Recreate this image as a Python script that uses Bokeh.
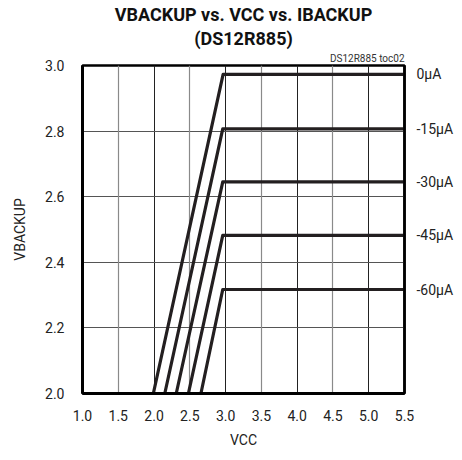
from bokeh.plotting import figure
from bokeh.models import Title, FixedTicker, Range1d, LinearAxis, CustomJSTickFormatter, Grid
from bokeh.embed import file_html
from bokeh.resources import INLINE

# Data
currents = ["0µA", "-15µA", "-30µA", "-45µA", "-60µA"]
vcc_start = [1.99, 2.15, 2.31, 2.48, 2.655]
vcc_knee = [2.965, 2.96, 2.96, 2.96, 2.96]
vcc_end = [5.5, 5.5, 5.5, 5.5, 5.5]
vbackup_plateau = [2.973, 2.807, 2.645, 2.482, 2.317]
vbackup_min = 2.0
x_ticks = [1.0, 1.5, 2.0, 2.5, 3.0, 3.5, 4.0, 4.5, 5.0, 5.5]
x_grid_dark = [2.0, 3.0, 4.0, 5.0]
x_grid_light = [1.5, 2.5, 3.5, 4.5]
y_ticks = [2.0, 2.2, 2.4, 2.6, 2.8, 3.0]

FONT = "Roboto"

p = figure(width=456, height=452, output_backend="svg", toolbar_location=None,
           x_range=Range1d(1.0, 5.5), y_range=Range1d(2.0, 3.0),
           min_border_left=82, min_border_right=46, min_border_top=13,
           min_border_bottom=59)

p.title.text = ""
p.title.visible = False
p.add_layout(Title(text="DS12R885 toc02", align="right", text_font=FONT,
                   text_font_size="10px", text_font_style="normal",
                   text_color="#333333", offset=0, standoff=4), "above")
p.add_layout(Title(text="(DS12R885)", align="center", text_font=FONT,
                   text_font_size="18px", text_font_style="bold",
                   text_color="#111111", standoff=0), "above")
p.add_layout(Title(text="VBACKUP vs. VCC vs. IBACKUP", align="center",
                   text_font=FONT, text_font_size="18px",
                   text_font_style="bold", text_color="#111111",
                   standoff=2), "above")

bottom = p.below[0]
left = p.left[0]
bottom.ticker = FixedTicker(ticks=x_ticks)
left.ticker = FixedTicker(ticks=y_ticks)
for ax in (bottom, left):
    ax.major_tick_line_color = None
    ax.minor_tick_line_color = None
    ax.axis_line_color = "black"
    ax.axis_line_width = 3
    ax.major_label_text_font = FONT
    ax.major_label_text_font_size = "14px"
    ax.major_label_text_color = "#222222"
    ax.axis_label_text_font = FONT
    ax.axis_label_text_font_size = "14px"
    ax.axis_label_text_font_style = "normal"
    ax.axis_label_text_color = "#222222"
    ax.formatter = CustomJSTickFormatter(code="return tick.toFixed(1);")
bottom.major_label_standoff = 10
left.major_label_standoff = 12
bottom.axis_label = "VCC"
left.axis_label = "VBACKUP"
bottom.axis_label_standoff = 8
left.axis_label_standoff = 14

# grids: darker at whole volts, lighter at half volts
p.xgrid.ticker = FixedTicker(ticks=x_grid_dark)
p.xgrid.grid_line_color = "#222222"
p.xgrid.grid_line_width = 1
p.add_layout(Grid(dimension=0, ticker=FixedTicker(ticks=x_grid_light),
                  grid_line_color="#8a8a8a", grid_line_width=1.2))
p.ygrid.grid_line_color = "#555555"
p.ygrid.grid_line_width = 1

for i, name in enumerate(currents):
    xs = [vcc_start[i], vcc_knee[i], vcc_end[i]]
    ys = [vbackup_min, vbackup_plateau[i], vbackup_plateau[i]]
    p.line(xs, ys, line_color="#231f20", line_width=3.2, line_join="round")

# right axis carrying the current labels at each plateau
right = LinearAxis(ticker=FixedTicker(ticks=vbackup_plateau),
                   major_label_overrides={v: n for v, n in zip(vbackup_plateau, currents)})
right.axis_line_color = "black"
right.axis_line_width = 2.5
right.major_tick_line_color = None
right.minor_tick_line_color = None
right.major_label_standoff = 6
right.major_label_text_font = FONT
right.major_label_text_font_size = "14px"
right.major_label_text_color = "#222222"
p.add_layout(right, "right")

p.outline_line_color = "black"
p.outline_line_width = 2.5
p.background_fill_color = "white"
p.border_fill_color = "white"

open("out.html", "w").write(file_html(p, INLINE))
